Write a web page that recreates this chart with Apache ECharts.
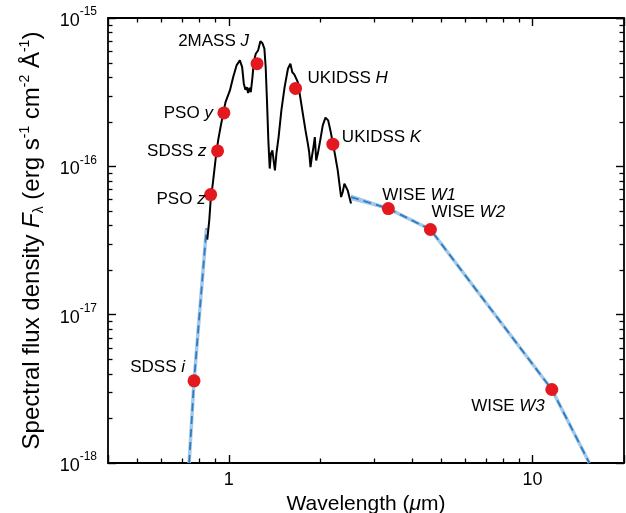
<!DOCTYPE html>
<html>
<head>
<meta charset="utf-8">
<script src="https://cdn.jsdelivr.net/npm/echarts@6/dist/echarts.min.js"></script>
<style>
  html, body { margin: 0; padding: 0; background: #fff; }
  #chart { width: 626px; height: 513px; }
</style>
</head>
<body>
<div id="chart"></div>
<script>
const FONT = '"Liberation Sans", Arial, Helvetica, sans-serif';

// Observed near-infrared spectrum: wavelength (µm) and F_lambda (erg s^-1 cm^-2 Å^-1)
const specWave = [0.849, 0.862, 0.871, 0.888, 0.906, 0.922, 0.939, 0.958, 0.975, 0.985,
  1.008, 1.033, 1.060, 1.087, 1.106, 1.120, 1.134, 1.146, 1.157, 1.169,
  1.181, 1.196, 1.208, 1.226, 1.248, 1.270, 1.290, 1.309, 1.322, 1.335,
  1.349, 1.363, 1.376, 1.391, 1.404, 1.418, 1.434, 1.458, 1.489, 1.526,
  1.565, 1.594, 1.618, 1.642, 1.667, 1.687, 1.718, 1.752, 1.788, 1.820,
  1.839, 1.857, 1.876, 1.899, 1.919, 1.939, 1.963, 1.999, 2.038, 2.080,
  2.123, 2.165, 2.204, 2.243, 2.283, 2.312, 2.342, 2.371, 2.401, 2.432,
  2.461, 2.493, 2.525];
const specFlux = [3.21e-17, 4.33e-17, 5.90e-17, 8.05e-17, 1.156e-16, 1.496e-16, 1.84e-16, 2.265e-16, 2.71e-16, 2.78e-16,
  3.25e-16, 3.99e-16, 4.79e-16, 5.18e-16, 4.67e-16, 3.61e-16, 3.28e-16, 3.42e-16, 3.12e-16, 3.39e-16,
  3.16e-16, 3.99e-16, 5.04e-16, 5.74e-16, 6.04e-16, 6.98e-16, 6.76e-16, 6.21e-16, 4.67e-16, 2.78e-16,
  1.496e-16, 9.66e-17, 1.219e-16, 1.282e-16, 1.096e-16, 9.40e-17, 1.219e-16, 1.574e-16, 2.38e-16, 3.42e-16,
  4.55e-16, 4.92e-16, 4.31e-16, 4.17e-16, 4.12e-16, 3.70e-16, 2.93e-16, 2.265e-16, 1.746e-16, 1.422e-16,
  1.242e-16, 9.89e-17, 1.156e-16, 1.349e-16, 1.574e-16, 1.096e-16, 1.219e-16, 1.496e-16, 1.888e-16, 2.13e-16,
  2.04e-16, 1.702e-16, 1.406e-16, 1.156e-16, 9.40e-17, 7.64e-17, 6.21e-17, 6.71e-17, 7.64e-17, 7.83e-17,
  6.89e-17, 6.21e-17, 5.61e-17];

// Broadband photometry
const photSurvey = ['SDSS', 'PSO', 'SDSS', 'PSO', '2MASS', 'UKIDSS', 'UKIDSS', 'WISE', 'WISE', 'WISE'];
const photFilter = ['i', 'z', 'z', 'y', 'J', 'H', 'K', 'W1', 'W2', 'W3'];
const photWave = [0.768, 0.871, 0.918, 0.963, 1.238, 1.658, 2.20, 3.35, 4.61, 11.57];
const photFlux = [3.58e-18, 6.45e-17, 1.27e-16, 2.29e-16, 4.92e-16, 3.35e-16, 1.41e-16, 5.19e-17, 3.75e-17, 3.13e-18];

// SED extension blueward and redward of the spectrum
const sedBlueWave = [0.74, 0.768, 0.844];
const sedBlueFlux = [1e-18, 3.58e-18, 3.82e-17];
const sedRedWave = [2.525, 3.35, 4.61, 11.57, 15.38];
const sedRedFlux = [6.21e-17, 5.19e-17, 3.75e-17, 3.13e-18, 1e-18];

// Uncertainty wedge joining the spectrum to W1
const wedgeWave = [2.525, 3.35];
const wedgeUpper = [6.47e-17, 5.3e-17];
const wedgeLower = [5.9e-17, 5.1e-17];

// Minor tick values
const xMinorTicks = [0.5, 0.6, 0.7, 0.8, 0.9, 2, 3, 4, 5, 6, 7, 8, 9];
const yMinorTicks = [2e-18, 3e-18, 4e-18, 5e-18, 6e-18, 7e-18, 8e-18, 9e-18,
  2e-17, 3e-17, 4e-17, 5e-17, 6e-17, 7e-17, 8e-17, 9e-17,
  2e-16, 3e-16, 4e-16, 5e-16, 6e-16, 7e-16, 8e-16, 9e-16];

// Label placement for each photometric point: text alignment and offset from the marker centre
const labelPlacement = [
  { align: 'right', offset: [-9, -14] },
  { align: 'right', offset: [-5, 5] },
  { align: 'right', offset: [-11, 0] },
  { align: 'right', offset: [-11, 0] },
  { align: 'right', offset: [-8, -22] },
  { align: 'left', offset: [12, -10] },
  { align: 'left', offset: [9, -7] },
  { align: 'left', offset: [-6, -13] },
  { align: 'left', offset: [1, -17] },
  { align: 'right', offset: [-7, 17] }
];

const pairs = (xs, ys) => xs.map((x, i) => [x, ys[i]]);

const LIGHT_BLUE = '#a3c8e8';
const DARK_BLUE = '#2f7cc0';
const RED = '#e4191f';

function minorTickSeries(values, dim) {
  return {
    type: 'custom',
    silent: true,
    clip: false,
    z: 10,
    data: values.map(v => (dim === 'x' ? [v, 1e-17] : [1, v])),
    renderItem(params, api) {
      const cs = params.coordSys;
      const p = api.coord([api.value(0), api.value(1)]);
      const L = 4.5;
      const style = { stroke: '#000', lineWidth: 1.3 };
      if (dim === 'x') {
        const x = Math.round(p[0]) + 0.5;
        return {
          type: 'group',
          children: [
            { type: 'line', shape: { x1: x, y1: cs.y + cs.height, x2: x, y2: cs.y + cs.height - L }, style },
            { type: 'line', shape: { x1: x, y1: cs.y, x2: x, y2: cs.y + L }, style }
          ]
        };
      }
      const y = Math.round(p[1]) + 0.5;
      return {
        type: 'group',
        children: [
          { type: 'line', shape: { x1: cs.x, y1: y, x2: cs.x + L, y2: y }, style },
          { type: 'line', shape: { x1: cs.x + cs.width, y1: y, x2: cs.x + cs.width - L, y2: y }, style }
        ]
      };
    }
  };
}

const isPow10 = v => Math.abs(Math.log10(v) - Math.round(Math.log10(v))) < 1e-6;

const axisCommon = {
  type: 'log',
  logBase: 10,
  axisLine: { show: true, lineStyle: { color: '#000', width: 1.8 } },
  axisTick: { show: true, inside: true, length: 8, lineStyle: { color: '#000', width: 1.4 } },
  splitLine: { show: false },
  minorTick: { show: false },
  minorSplitLine: { show: false }
};

const chart = echarts.init(document.getElementById('chart'), null, { renderer: 'canvas' });

chart.setOption({
  animation: false,
  backgroundColor: '#fff',
  textStyle: { fontFamily: FONT },
  grid: { left: 108, right: 2, top: 18, bottom: 50, containLabel: false, outerBoundsMode: 'none' },
  xAxis: [
    Object.assign({}, axisCommon, {
      position: 'bottom',
      min: 0.4, max: 20,
      name: 'Wavelength ({i|μ}m)',
      nameLocation: 'middle',
      nameGap: 22,
      nameTextStyle: {
        fontSize: 21, color: '#000', fontFamily: FONT,
        rich: { i: { fontSize: 21, fontStyle: 'italic', color: '#000', fontFamily: FONT } }
      },
      axisLabel: {
        show: true, margin: 8, fontSize: 18, color: '#000', fontFamily: FONT,
        formatter: v => (isPow10(v) ? String(Math.round(v)) : '')
      }
    }),
    Object.assign({}, axisCommon, {
      position: 'top',
      min: 0.4, max: 20,
      axisLabel: { show: false }
    })
  ],
  yAxis: [
    Object.assign({}, axisCommon, {
      position: 'left',
      min: 1e-18, max: 1e-15,
      name: 'Spectral flux density {i|F}{sub|λ} (erg s{sup|-1} cm{sup|-2} Å{sup|-1})',
      nameLocation: 'middle',
      nameGap: 62,
      nameTextStyle: {
        fontSize: 24, color: '#000', fontFamily: FONT, lineHeight: 28,
        rich: {
          i: { fontSize: 24, fontStyle: 'italic', color: '#000', fontFamily: FONT, lineHeight: 28 },
          sub: { fontSize: 14, color: '#000', fontFamily: FONT, lineHeight: 14, verticalAlign: 'bottom' },
          sup: { fontSize: 14, color: '#000', fontFamily: FONT, lineHeight: 14, verticalAlign: 'top' }
        }
      },
      axisLabel: {
        show: true, margin: 11, color: '#000', fontFamily: FONT,
        formatter: v => '{b|10}{s|' + Math.round(Math.log10(v)) + '}',
        rich: {
          b: { fontSize: 18, color: '#000', fontFamily: FONT, lineHeight: 24, verticalAlign: 'bottom' },
          s: { fontSize: 12, color: '#000', fontFamily: FONT, lineHeight: 12, verticalAlign: 'top' }
        }
      }
    }),
    Object.assign({}, axisCommon, {
      position: 'right',
      min: 1e-18, max: 1e-15,
      axisLabel: { show: false }
    })
  ],
  series: [
    // uncertainty wedge
    {
      type: 'custom',
      silent: true,
      z: 2,
      data: [0],
      renderItem(params, api) {
        const pts = [];
        wedgeWave.forEach((w, i) => pts.push(api.coord([w, wedgeUpper[i]])));
        for (let i = wedgeWave.length - 1; i >= 0; i--) pts.push(api.coord([wedgeWave[i], wedgeLower[i]]));
        return { type: 'polygon', shape: { points: pts }, style: { fill: LIGHT_BLUE } };
      }
    },
    // SED extensions: pale band with dashed core
    {
      type: 'line', z: 2, silent: true, showSymbol: false,
      data: pairs(sedBlueWave, sedBlueFlux),
      lineStyle: { color: LIGHT_BLUE, width: 3.5 }
    },
    {
      type: 'line', z: 2, silent: true, showSymbol: false,
      data: pairs(sedRedWave, sedRedFlux),
      lineStyle: { color: LIGHT_BLUE, width: 3.5 }
    },
    {
      type: 'line', z: 3, silent: true, showSymbol: false,
      data: pairs(sedBlueWave, sedBlueFlux),
      lineStyle: { color: DARK_BLUE, width: 1.8, type: [8, 5] }
    },
    {
      type: 'line', z: 3, silent: true, showSymbol: false,
      data: pairs(sedRedWave, sedRedFlux),
      lineStyle: { color: DARK_BLUE, width: 1.8, type: [8, 5] }
    },
    // observed spectrum
    {
      type: 'line', z: 4, silent: true, showSymbol: false,
      data: pairs(specWave, specFlux),
      lineStyle: { color: '#000', width: 2 }
    },
    // photometry
    {
      type: 'scatter', z: 6, silent: true,
      symbol: 'circle', symbolSize: 13,
      itemStyle: { color: RED, opacity: 1 },
      data: photWave.map((w, i) => ({
        value: [w, photFlux[i]],
        label: {
          show: true,
          position: 'inside',
          align: labelPlacement[i].align,
          verticalAlign: 'middle',
          offset: labelPlacement[i].offset,
          formatter: photSurvey[i] + ' {f|' + photFilter[i] + '}'
        }
      })),
      label: {
        fontSize: 17, color: '#000', fontFamily: FONT,
        rich: { f: { fontSize: 17, fontStyle: 'italic', color: '#000', fontFamily: FONT } }
      }
    },
    minorTickSeries(xMinorTicks, 'x'),
    minorTickSeries(yMinorTicks, 'y')
  ]
});
</script>
</body>
</html>
